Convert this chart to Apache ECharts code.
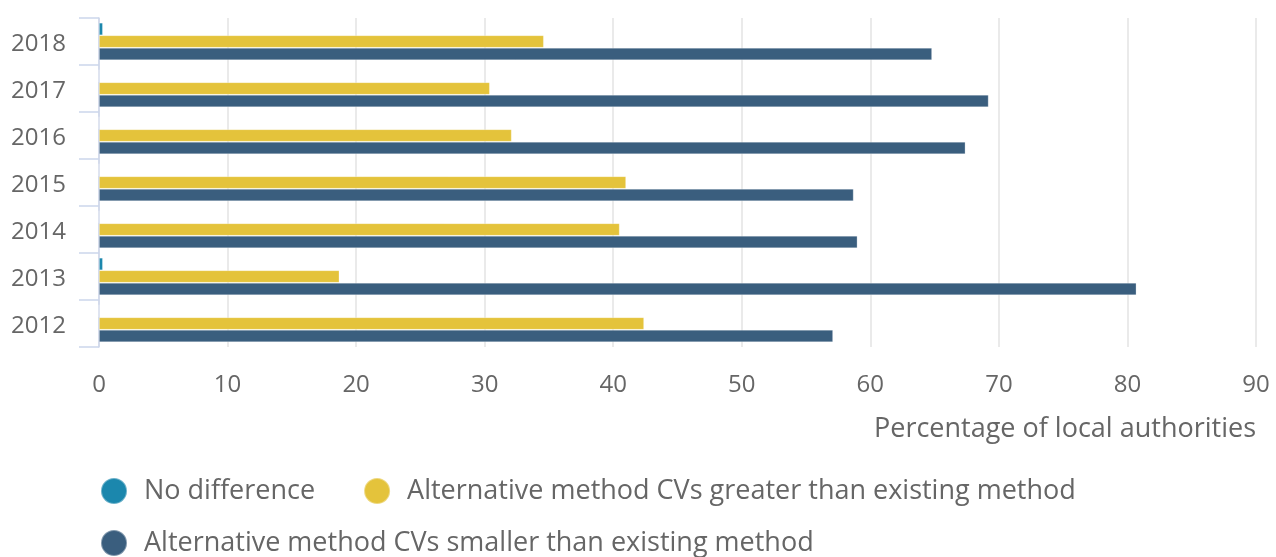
<!DOCTYPE html>
<html>
<head>
<meta charset="utf-8">
<style>
  html, body { margin: 0; padding: 0; background: #ffffff; }
  #chart { width: 1276px; height: 557px; }
</style>
<script src="https://cdn.jsdelivr.net/npm/echarts@6/dist/echarts.min.js"></script>
</head>
<body>
<div id="chart"></div>
<script>
// Years, listed from top to bottom of the chart
const years = ['2018', '2017', '2016', '2015', '2014', '2013', '2012'];

// Share of local authorities (%) in each comparison outcome
const noDifference = [0.3, 0, 0, 0, 0, 0.3, 0];
const cvsGreater   = [34.6, 30.4, 32.1, 41.0, 40.5, 18.7, 42.4];
const cvsSmaller   = [64.8, 69.2, 67.4, 58.7, 59.0, 80.7, 57.1];

const seriesNames = [
  'No difference',
  'Alternative method CVs greater than existing method',
  'Alternative method CVs smaller than existing method'
];
const xAxisTitle = 'Percentage of local authorities';

const colors = ['#1b87ad', '#e4c33b', '#3a5e7e'];
const font = '"Open Sans", "Noto Sans", sans-serif';
const textGrey = '#666666';
const axisBlue = '#ccd6eb';

const chart = echarts.init(document.getElementById('chart'), null, { renderer: 'canvas' });

function barSeries(name, data, color) {
  return {
    name: name,
    type: 'bar',
    data: data,
    barWidth: 12.5,
    barGap: '0%',
    itemStyle: {
      color: color,
      borderColor: 'rgba(255,255,255,0.35)',
      borderWidth: 0.8
    },
    emphasis: { disabled: true }
  };
}

const legendText = {
  color: textGrey,
  fontFamily: font,
  fontSize: 27,
  padding: [0, 0, 0, 12]
};

chart.setOption({
  animation: false,
  textStyle: { fontFamily: font },
  grid: { left: 99, right: 20, top: 18, bottom: 210, containLabel: false },
  legend: [
    {
      data: [seriesNames[0], seriesNames[1]],
      left: 95, top: 472,
      icon: 'circle', itemWidth: 26, itemHeight: 26, itemGap: 48,
      textStyle: legendText
    },
    {
      data: [seriesNames[2]],
      left: 95, top: 524,
      icon: 'circle', itemWidth: 26, itemHeight: 26,
      textStyle: legendText
    }
  ],
  xAxis: {
    type: 'value',
    min: 0, max: 90, interval: 10,
    axisLine: { show: false },
    axisTick: { show: false },
    splitLine: { show: true, lineStyle: { color: '#e3e3e3', width: 1.5 } },
    axisLabel: { color: textGrey, fontSize: 24, fontFamily: font, margin: 26 },
    name: xAxisTitle,
    nameLocation: 'end',
    nameGap: 0,
    nameTextStyle: {
      color: textGrey, fontSize: 27, fontFamily: font,
      align: 'right', verticalAlign: 'top', padding: [69, 0, 0, 0]
    }
  },
  yAxis: {
    type: 'category',
    data: years,
    inverse: true,
    axisLine: { show: true, onZero: false, lineStyle: { color: axisBlue, width: 1.5 } },
    axisTick: { show: true, length: 20, lineStyle: { color: axisBlue, width: 1.5 } },
    splitLine: { show: false },
    axisLabel: {
      margin: 33,
      formatter: '{yr|{value}}',
      rich: {
        yr: {
          color: textGrey, fontSize: 24, fontFamily: font,
          padding: [6, 0, 0, 0]
        }
      }
    }
  },
  series: [
    barSeries(seriesNames[0], noDifference, colors[0]),
    barSeries(seriesNames[1], cvsGreater, colors[1]),
    barSeries(seriesNames[2], cvsSmaller, colors[2])
  ]
});
</script>
</body>
</html>
